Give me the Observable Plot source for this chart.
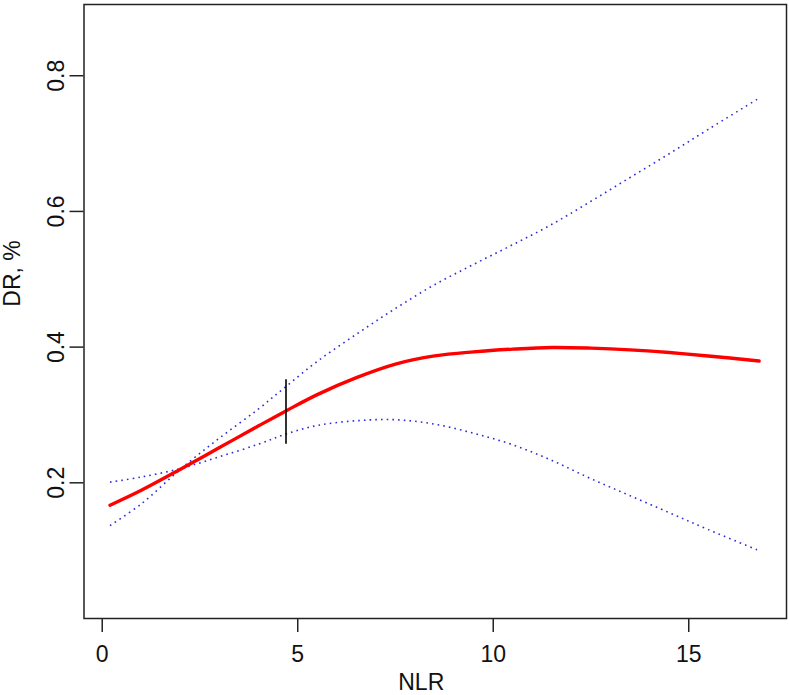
<!DOCTYPE html>
<html>
<head>
<meta charset="utf-8">
<script src="https://cdn.jsdelivr.net/npm/d3@7"></script>
<script src="https://cdn.jsdelivr.net/npm/@observablehq/plot@0.6"></script>
<style>
  html, body { margin: 0; padding: 0; background: #fff; }
  #chart svg { display: block; }
</style>
</head>
<body>
<div id="chart"></div>
<script>
// NLR values (x)
const nlr   = [0.2, 1, 2, 3, 4, 4.7, 5.5, 6.5, 7.5, 8.5, 9.5, 10.5, 11.5, 12.5, 13.5, 14.5, 15.5, 16.8];
// estimated DR (red curve)
const dr    = [0.167, 0.189, 0.220, 0.252, 0.284, 0.306, 0.330, 0.355, 0.375, 0.387, 0.393, 0.397, 0.3995, 0.3985, 0.396, 0.392, 0.387, 0.3795];
// confidence band, steep branch (upper at right)
const upper = [0.137, 0.169, 0.220, 0.266, 0.309, 0.342, 0.379, 0.419, 0.457, 0.492, 0.522, 0.551, 0.581, 0.615, 0.650, 0.685, 0.721, 0.767];
// confidence band, shallow branch (lower at right)
const lower = [0.201, 0.2085, 0.221, 0.2385, 0.257, 0.272, 0.2845, 0.2915, 0.293, 0.2865, 0.273, 0.256, 0.233, 0.206, 0.181, 0.156, 0.131, 0.100];
// reference marker
const refX = 4.7, refLow = 0.257, refHigh = 0.352;
// axes
const xTicks = [0, 5, 10, 15];
const yTicks = [0.2, 0.4, 0.6, 0.8];
const xDomain = [-0.466, 17.50];
const yDomain = [0, 0.905];

const rows = nlr.map((x, i) => ({x, dr: dr[i], upper: upper[i], lower: lower[i]}));
const font = "Liberation Sans, Arial, Helvetica, sans-serif";

const chart = Plot.plot({
  width: 789,
  height: 695,
  marginLeft: 83.5,
  marginRight: 3,
  marginTop: 4,
  marginBottom: 77,
  style: {fontFamily: font, background: "#fff", color: "#111"},
  x: {domain: xDomain},
  y: {domain: yDomain},
  marks: [
    Plot.frame({stroke: "#222", strokeWidth: 1.5}),
    Plot.axisX({ticks: xTicks, tickSize: 14, tickPadding: 13, fontSize: 23, tickFormat: d3.format("d"), label: null, strokeWidth: 1.5, stroke: "#222"}),
    Plot.axisY({ticks: yTicks, tickSize: 14, tickPadding: 6, tickRotate: -90, fontSize: 23, tickFormat: d3.format(".1f"), label: null, strokeWidth: 1.5, stroke: "#222"}),
    Plot.line(rows, {x: "x", y: "upper", curve: "catmull-rom", stroke: "#2b2bdc", strokeWidth: 1.6, strokeDasharray: "1.6 4.1", strokeLinecap: "butt"}),
    Plot.line(rows, {x: "x", y: "lower", curve: "catmull-rom", stroke: "#2b2bdc", strokeWidth: 1.6, strokeDasharray: "1.6 4.1", strokeLinecap: "butt"}),
    Plot.line(rows, {x: "x", y: "dr", curve: "catmull-rom", stroke: "#ff0000", strokeWidth: 3.4}),
    Plot.ruleX([refX], {y1: refLow, y2: refHigh, stroke: "#000", strokeWidth: 1.6}),
    Plot.text(["NLR"], {frameAnchor: "bottom", lineAnchor: "top", dy: 55, dx: -14, fontSize: 23, fill: "#111"}),
    Plot.text(["DR, %"], {frameAnchor: "left", rotate: -90, lineAnchor: "top", textAnchor: "middle", dx: -80.5, dy: -38, fontSize: 23, fill: "#111"})
  ]
});
document.getElementById("chart").append(chart);
</script>
</body>
</html>
